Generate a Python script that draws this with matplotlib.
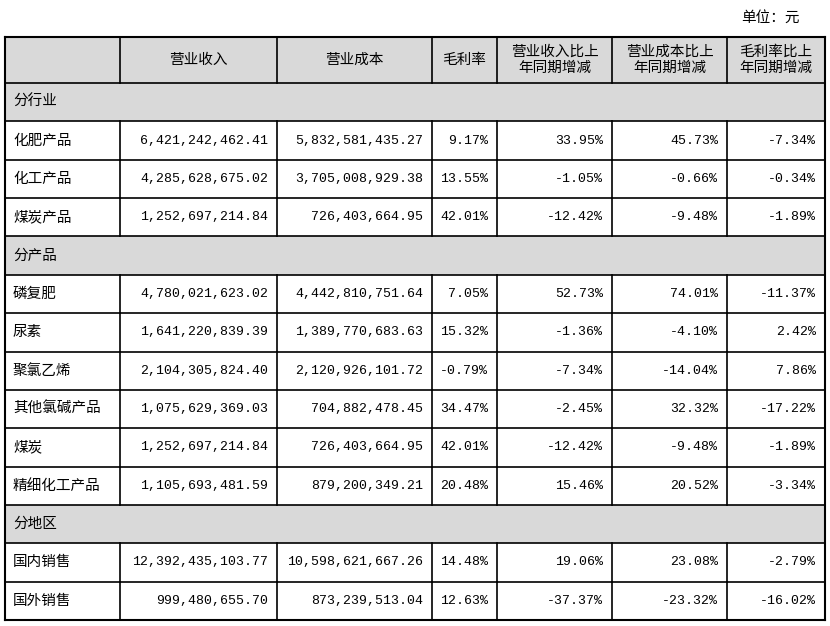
import matplotlib.pyplot as plt
from matplotlib.patches import Rectangle

plt.rcParams['font.family'] = ['Noto Sans CJK SC', 'DejaVu Sans']

headers = ['', '营业收入', '营业成本', '毛利率', '营业收入比上\n年同期增减', '营业成本比上\n年同期增减', '毛利率比上\n年同期增减']

# rows: (label, values) ; values None means section row
rows = [
    ('分行业', None),
    ('化肥产品', ['6,421,242,462.41', '5,832,581,435.27', '9.17%', '33.95%', '45.73%', '-7.34%']),
    ('化工产品', ['4,285,628,675.02', '3,705,008,929.38', '13.55%', '-1.05%', '-0.66%', '-0.34%']),
    ('煤炭产品', ['1,252,697,214.84', '726,403,664.95', '42.01%', '-12.42%', '-9.48%', '-1.89%']),
    ('分产品', None),
    ('磷复肥', ['4,780,021,623.02', '4,442,810,751.64', '7.05%', '52.73%', '74.01%', '-11.37%']),
    ('尿素', ['1,641,220,839.39', '1,389,770,683.63', '15.32%', '-1.36%', '-4.10%', '2.42%']),
    ('聚氯乙烯', ['2,104,305,824.40', '2,120,926,101.72', '-0.79%', '-7.34%', '-14.04%', '7.86%']),
    ('其他氯碱产品', ['1,075,629,369.03', '704,882,478.45', '34.47%', '-2.45%', '32.32%', '-17.22%']),
    ('煤炭', ['1,252,697,214.84', '726,403,664.95', '42.01%', '-12.42%', '-9.48%', '-1.89%']),
    ('精细化工产品', ['1,105,693,481.59', '879,200,349.21', '20.48%', '15.46%', '20.52%', '-3.34%']),
    ('分地区', None),
    ('国内销售', ['12,392,435,103.77', '10,598,621,667.26', '14.48%', '19.06%', '23.08%', '-2.79%']),
    ('国外销售', ['999,480,655.70', '873,239,513.04', '12.63%', '-37.37%', '-23.32%', '-16.02%']),
]

col_x = [5, 120, 277, 432, 497, 612, 727, 825]
top, header_bottom, bottom = 37, 83, 620
grey = '#d9d9d9'

fig = plt.figure(figsize=(8.3, 6.26), dpi=100)
ax = fig.add_axes([0, 0, 1, 1])
ax.set_xlim(0, 830)
ax.set_ylim(626, 0)
ax.axis('off')

fs = 10.5
num_fs = 9.5
row_h = (bottom - header_bottom) / len(rows)

ax.text(800, 18, '单位：元', ha='right', va='center', fontsize=fs)

# header
ax.add_patch(Rectangle((col_x[0], top), col_x[-1] - col_x[0], header_bottom - top, facecolor=grey, edgecolor='none'))
for i, h in enumerate(headers):
    cx = (col_x[i] + col_x[i + 1]) / 2
    ax.text(cx, (top + header_bottom) / 2, h, ha='center', va='center', fontsize=fs, linespacing=1.2)

for r, (label, vals) in enumerate(rows):
    y0 = header_bottom + r * row_h
    ym = y0 + row_h / 2
    if vals is None:
        ax.add_patch(Rectangle((col_x[0], y0), col_x[-1] - col_x[0], row_h, facecolor=grey, edgecolor='none'))
        ax.text(col_x[0] + 8, ym, label, ha='left', va='center', fontsize=fs)
    else:
        ax.text(col_x[0] + 8, ym, label, ha='left', va='center', fontsize=fs)
        for j, v in enumerate(vals):
            ax.text(col_x[j + 2] - 9, ym, v, ha='right', va='center', fontsize=num_fs,
                    family='Liberation Mono')
        for x in col_x[1:-1]:
            ax.plot([x, x], [y0, y0 + row_h], color='black', lw=1.2)
    ax.plot([col_x[0], col_x[-1]], [y0, y0], color='black', lw=1.2)

for x in col_x[1:-1]:
    ax.plot([x, x], [top, header_bottom], color='black', lw=1.2)
ax.plot([col_x[0], col_x[-1]], [top, top], color='black', lw=1.5)
ax.plot([col_x[0], col_x[-1]], [bottom, bottom], color='black', lw=1.5)
ax.plot([col_x[0], col_x[0]], [top, bottom], color='black', lw=1.5)
ax.plot([col_x[-1], col_x[-1]], [top, bottom], color='black', lw=1.5)

fig.savefig('out.png', dpi=100)
